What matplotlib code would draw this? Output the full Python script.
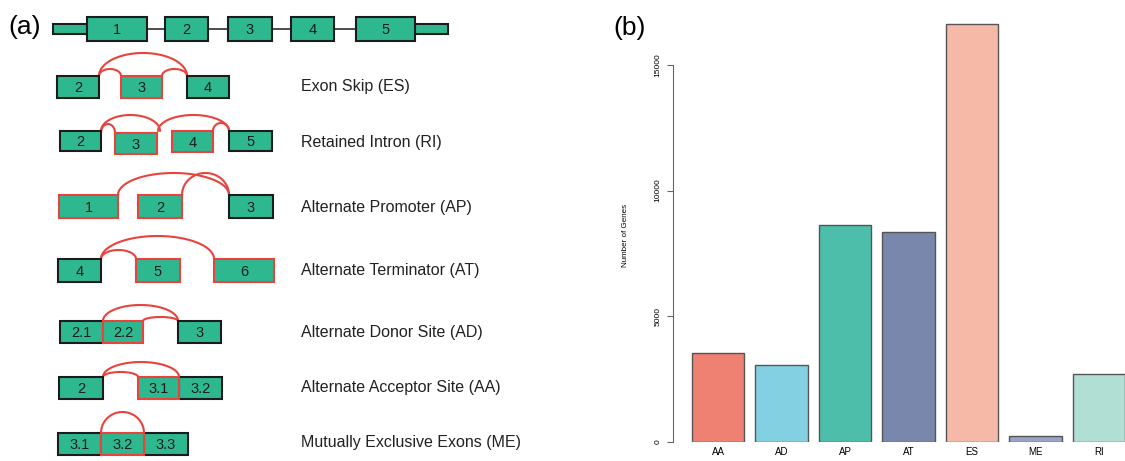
import numpy as np
import matplotlib
matplotlib.use('Agg')
import matplotlib.pyplot as plt
from matplotlib.patches import Rectangle

plt.rcParams['font.family'] = ['Liberation Sans', 'DejaVu Sans']

# panel (b) data
categories = ['AA', 'AD', 'AP', 'AT', 'ES', 'ME', 'RI']
gene_counts = [3520, 3060, 8630, 8350, 16620, 220, 2700]
bar_colors = ['#EF8172', '#84D0E3', '#4DBEAA', '#7887AB', '#F7B9A7', '#9AA3C6', '#B2DFD4']

# panel (a) labels
event_names = ['Exon Skip (ES)', 'Retained Intron (RI)', 'Alternate Promoter (AP)',
               'Alternate Terminator (AT)', 'Alternate Donor Site (AD)',
               'Alternate Acceptor Site (AA)', 'Mutually Exclusive Exons (ME)']

GREEN = '#2DB890'
DARK = '#1c1c1c'
RED = '#E8433C'

fig = plt.figure(figsize=(11.25, 4.61), dpi=100)

# ---------- panel (a): schematic drawn in pixel coordinates ----------
axa = fig.add_axes([0, 0, 1, 1])
axa.set_xlim(0, 1125)
axa.set_ylim(461, 0)
axa.axis('off')


def exon(x0, x1, y0, y1, label='', edge=DARK, z=3):
    axa.add_patch(Rectangle((x0, y0), x1 - x0, y1 - y0, facecolor=GREEN,
                            edgecolor=edge, linewidth=1.5, zorder=z))
    if label:
        axa.text((x0 + x1) / 2, (y0 + y1) / 2 + 1, label, ha='center', va='center',
                 fontsize=10.5, color=DARK, zorder=z + 1)


def arc(x0, x1, base, peak):
    t = np.linspace(0, np.pi, 80)
    xs = (x0 + x1) / 2 - (x1 - x0) / 2 * np.cos(t)
    ys = base - (base - peak) * np.sin(t)
    axa.plot(xs, ys, color=RED, linewidth=1.5, zorder=2, solid_capstyle='round')


# full gene
axa.plot([53, 448], [29, 29], color=DARK, linewidth=1.1, zorder=1)
exon(53, 87, 24, 34)
exon(415, 448, 24, 34)
for x0, x1, lab in [(87, 147, '1'), (165, 208, '2'), (228, 272, '3'),
                    (291, 334, '4'), (356, 415, '5')]:
    exon(x0, x1, 17, 41, lab)

# ES
exon(57, 99, 76, 98, '2')
exon(121, 162, 76, 98, '3', RED)
exon(187, 229, 76, 98, '4')
arc(99, 187, 76, 53)
arc(99, 121, 76, 69)
arc(162, 187, 76, 69)

# RI
exon(60, 101, 131, 151, '2')
exon(115, 157, 133, 154, '3', RED)
exon(172, 213, 131, 152, '4', RED)
exon(229, 272, 131, 151, '5')
arc(101, 160, 131, 115)
arc(158, 229, 131, 115)
arc(101, 115, 133, 124)
arc(213, 229, 131, 123)

# AP
exon(59, 118, 195, 218, '1', RED)
exon(138, 182, 195, 218, '2', RED)
exon(229, 273, 195, 218, '3')
arc(118, 229, 195, 173)
arc(182, 229, 195, 173)

# AT
exon(58, 101, 259, 282, '4')
exon(136, 180, 259, 282, '5', RED)
exon(214, 274, 259, 282, '6', RED)
arc(101, 214, 259, 236)
arc(101, 136, 259, 250)

# AD
exon(60, 103, 321, 343, '2.1')
exon(178, 221, 321, 343, '3')
exon(103, 143, 321, 343, '2.2', RED, z=4)
arc(103, 178, 321, 305)
arc(143, 178, 321, 317)

# AA
exon(59, 103, 377, 399, '2')
exon(179, 222, 377, 399, '3.2')
exon(138, 179, 377, 399, '3.1', RED, z=4)
arc(103, 179, 377, 362)
arc(103, 138, 377, 372)

# ME
exon(58, 101, 433, 455, '3.1')
exon(144, 188, 433, 455, '3.3')
exon(101, 144, 433, 455, '3.2', RED, z=4)
arc(101, 144, 433, 412)

label_y = [87, 142, 207, 270, 332, 387, 442]
for name, y in zip(event_names, label_y):
    axa.text(301, y, name, ha='left', va='center', fontsize=11.5, color='#222222')

axa.text(8, 27, '(a)', ha='left', va='center', fontsize=19)
axa.text(613, 28, '(b)', ha='left', va='center', fontsize=19)

# ---------- panel (b): bar chart ----------
axb = fig.add_axes([673 / 1125, (461 - 441.7) / 461, 1 - 673 / 1125, (441.7 - 10) / 461])
x = np.arange(len(categories))
axb.bar(x, gene_counts, width=0.833, color=bar_colors, edgecolor='#555555', linewidth=1.0)
axb.set_xlim(-0.709, 6.41)
axb.set_ylim(0, (441.7 - 10) / 0.02511)
for s in ['top', 'right', 'bottom']:
    axb.spines[s].set_visible(False)
axb.spines['left'].set_bounds(0, 15000)
axb.spines['left'].set_color('#666666')
axb.set_yticks([0, 5000, 10000, 15000])
axb.set_yticklabels(['0', '5000', '10000', '15000'], rotation=90, va='center', fontsize=6)
axb.tick_params(axis='y', length=4.5, width=0.8, color='#666666', pad=4)
axb.set_xticks(x)
axb.set_xticklabels(categories, fontsize=7)
axb.tick_params(axis='x', length=0, pad=4)
axb.set_ylabel('Number of Genes', fontsize=5.8)
axb.yaxis.set_label_coords(-0.098, (441.7 - 235) / 431.7)

fig.savefig('out.png', dpi=100)
